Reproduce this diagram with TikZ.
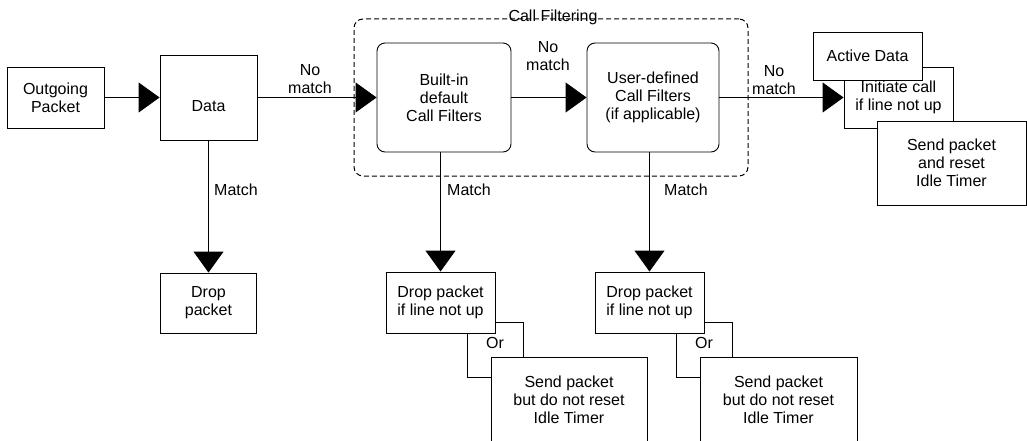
\documentclass[tikz,border=0pt]{standalone}
\usepackage{fontspec}
\setmainfont{Liberation Sans}
\usetikzlibrary{arrows.meta,calc}
\begin{document}
\begin{tikzpicture}[x=1pt,y=-1pt,
 txt/.style={font=\fontsize{16}{18}\selectfont},
 box/.style={draw,line width=0.9pt,fill=white,align=center,inner sep=0pt,txt},
 rbox/.style={box,rounded corners=8pt},
 lbl/.style={align=center,inner sep=0pt,txt},
 arr/.style={line width=0.9pt,-{Triangle[length=21pt,width=30pt]}},
 ln/.style={line width=0.9pt},
 grp/.style={draw,line width=1pt,dashed,dash pattern=on 5pt off 3pt,rounded corners=9pt,inner sep=0pt},
]
\useasboundingbox (0,0) rectangle (1027,441);

% group
\node[grp,minimum width=394pt,minimum height=157pt] (cf) at (551,97.5) {};
\node[lbl,anchor=base] (cft) at (553,21.5) {Call Filtering};

% nodes
\node[box,minimum width=97pt,minimum height=61pt] (out) at (55.5,97.5) {Outgoing\\Packet};
\node[box,minimum width=97pt,minimum height=85pt] (data) at (208.5,97.5) {\raisebox{-14pt}[0pt][0pt]{Data}};
\node[rbox,minimum width=134pt,minimum height=109pt] (bi) at (444,97.5) {Built-in\\default\\Call Filters};
\node[rbox,minimum width=132pt,minimum height=109pt] (ud) at (653,97.5) {User-defined\\Call Filters\\(if applicable)};
\node[box,minimum width=109pt,minimum height=61pt] (init) at (898.5,97.5) {Initiate call\\if line not up};
\node[box,minimum width=109pt,minimum height=48pt] (act) at (867.5,56) {Active Data};
\node[box,minimum width=149pt,minimum height=84pt] (send) at (951.5,163) {Send packet\\and reset\\Idle Timer};
\node[box,minimum width=96pt,minimum height=60pt] (drop) at (208.5,303) {Drop\\packet};
\node[box,minimum width=109pt,minimum height=61pt] (d1) at (440.5,302.5) {Drop packet\\if line not up};
\node[box,minimum width=109pt,minimum height=61pt] (d2) at (649.5,302.5) {Drop packet\\if line not up};

% connectors
\draw[arr] (out.east) -- (data.west);
\draw[arr] (data.east) -- (bi.west);
\draw[arr] (bi.east) -- (ud.west);
\draw[arr] (ud.east) -- (init.west);
\draw[arr] (data.south) -- (drop.north);
\draw[arr] (d1.north |- bi.south) -- (d1.north);
\draw[arr] (d2.north |- ud.south) -- (d2.north);

\node[box,minimum width=156pt,minimum height=86pt] (s1) at (569,400) {Send packet\\but do not reset\\Idle Timer};
\node[box,minimum width=157pt,minimum height=86pt] (s2) at (778.5,400) {Send packet\\but do not reset\\Idle Timer};

\draw[ln] ([yshift=-19.5pt]d1.east) -| ([xshift=-46pt]s1.north);
\draw[ln] ([xshift=26.5pt]d1.south) |- ([yshift=23pt]s1.west);
\draw[ln] ([yshift=-19.5pt]d2.east) -| ([xshift=-46.5pt]s2.north);
\draw[ln] ([xshift=26.5pt]d2.south) |- ([yshift=23pt]s2.west);

% labels
\node[lbl] (nm1) at (310,79.5) {No\\match};
\node[lbl] (nm2) at (548,56.5) {No\\match};
\node[lbl] (nm3) at (774,80) {No\\match};
\node[lbl,anchor=west] (m0) at (214,190) {Match};
\node[lbl,anchor=west] (m1) at (447,190) {Match};
\node[lbl,anchor=west] (m2) at (664,190) {Match};
\node[lbl] (or1) at (495,343) {Or};
\node[lbl] (or2) at (704,343) {Or};
\end{tikzpicture}
\end{document}
